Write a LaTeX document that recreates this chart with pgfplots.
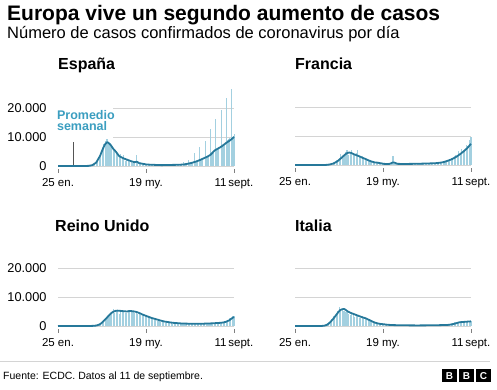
\documentclass[border=0pt]{standalone}
\usepackage{fontspec}
\setmainfont{Liberation Sans}
\usepackage{pgfplots}
\pgfplotsset{compat=1.18}
\definecolor{linecol}{HTML}{26789A}
\definecolor{barcol}{HTML}{A3D0E0}
\definecolor{labelcol}{HTML}{3B9EC0}
\definecolor{gridcol}{HTML}{D4D4D4}
\definecolor{tickcol}{HTML}{808080}
\definecolor{pointcol}{HTML}{555555}
\pgfplotsset{
 panel/.style={scale only axis, width=176pt, height=81.2pt, xmin=0, xmax=230, ymin=0, ymax=28000,
   anchor=south west, axis line style={draw=none},
   xtick={0,115,230}, xticklabels={25 en.,19 my.,11\,sept.}, xtick pos=bottom, ytick pos=left,
   ytick={0,10000,20000}, ymajorgrids, grid style={gridcol, line width=0.8pt},
   ytick style={draw=none}, xtick style={tickcol, line width=0.7pt, yshift=-3pt},
   major tick length=4pt, tick align=outside, clip=false,
   xticklabel style={font=\fontsize{11.5}{13}\selectfont, yshift=-5pt},
   yticklabel style={font=\fontsize{12.75}{14}\selectfont, anchor=east, xshift=-4pt},
   /pgf/number format/assume math mode=true, scaled y ticks=false},
 leftpanel/.style={panel, yticklabels={0,10.000,20.000}},
 rightpanel/.style={panel, yticklabels={}},
 bars/.style={ycomb, barcol, line width=1.1pt, mark=none},
 thinbars/.style={ycomb, barcol, line width=0.8pt, mark=none},
 avg/.style={linecol, line width=1.8pt, mark=none, line join=round}
}
\begin{document}
\begin{tikzpicture}
\useasboundingbox (0pt,0pt) rectangle (497pt,390pt);
\fill[white] (0pt,0pt) rectangle (497pt,390pt);
% titles
\node[anchor=base west, inner sep=0pt, font=\bfseries\fontsize{21}{25}\selectfont] at (7pt,369pt) {Europa vive un segundo aumento de casos};
\node[anchor=base west, inner sep=0pt, font=\fontsize{16.5}{19}\selectfont] at (7pt,351pt) {Número de casos confirmados de coronavirus por día};
\node[anchor=base west, inner sep=0pt, font=\bfseries\fontsize{16}{19}\selectfont] at (58pt,320pt) {España};
\node[anchor=base west, inner sep=0pt, font=\bfseries\fontsize{16}{19}\selectfont] at (295pt,320pt) {Francia};
\node[anchor=base west, inner sep=0pt, font=\bfseries\fontsize{16}{19}\selectfont] at (55pt,158pt) {Reino Unido};
\node[anchor=base west, inner sep=0pt, font=\bfseries\fontsize{16}{19}\selectfont] at (295pt,158pt) {Italia};

% ---------------- España
\begin{axis}[leftpanel, at={(58pt,224pt)}]
\fill[white] (axis cs:-1,9400) rectangle (axis cs:72,21500);
\addplot[bars] table[row sep=\\]{
36 10\\ 38 30\\ 40 80\\ 42 150\\ 44 300\\ 46 500\\ 48 1000\\ 50 1500\\ 52 2100\\ 54 3400\\ 56 4500\\ 58 6500\\ 60 7500\\ 62 8500\\ 64 9200\\ 66 8100\\ 68 7800\\ 70 6400\\ 72 5500\\ 74 4800\\ 76 5000\\ 78 4300\\ 80 3800\\ 82 4200\\ 84 2600\\ 86 3900\\ 88 1800\\ 90 2200\\ 92 2100\\ 94 1400\\ 96 1800\\ 98 1100\\ 100 1300\\ 102 3800\\ 104 1000\\ 106 900\\ 108 700\\ 110 600\\ 112 500\\ 114 400\\ 116 600\\ 118 300\\ 120 500\\ 122 350\\ 124 300\\ 126 400\\ 128 300\\ 130 350\\ 132 300\\ 134 250\\ 136 400\\ 138 300\\ 140 350\\ 142 300\\ 144 350\\ 146 400\\ 148 350\\ 150 400\\ 152 350\\ 154 400\\ 156 450\\ 158 400\\
};
\addplot[thinbars] table[row sep=\\]{
160 500\\ 161 450\\ 162 0\\ 163 0\\ 164 1500\\ 165 600\\ 166 550\\ 167 650\\ 168 700\\ 169 0\\ 170 0\\ 171 2000\\ 172 900\\ 173 950\\ 174 1000\\ 175 1100\\ 176 0\\ 177 0\\ 178 4600\\ 179 1300\\ 180 1400\\ 181 1500\\ 182 1600\\ 183 0\\ 184 0\\ 185 6400\\ 186 1900\\ 187 2000\\ 188 2200\\ 189 2300\\ 190 0\\ 191 0\\ 192 8500\\ 193 2800\\ 194 3000\\ 195 3100\\ 196 3300\\ 197 0\\ 198 0\\ 199 12800\\ 200 3800\\ 201 4000\\ 202 4200\\ 203 4500\\ 204 0\\ 205 0\\ 206 16300\\ 207 5500\\ 208 5800\\ 209 6000\\ 210 6300\\ 211 0\\ 212 0\\ 213 19400\\ 214 7000\\ 215 7200\\ 216 7400\\ 217 7600\\ 218 0\\ 219 0\\ 220 23600\\ 221 8500\\ 222 9000\\ 223 9300\\ 224 9500\\ 225 0\\ 226 0\\ 227 26600\\ 228 10000\\ 229 10500\\ 230 11000\\
};
\addplot[pointcol, line width=1.2pt] coordinates {(20,0) (20,8400)};
\addplot[avg] table[row sep=\\]{
0 0\\ 30 0\\ 36 5\\ 40 50\\ 45 300\\ 50 1200\\ 55 3500\\ 58 5500\\ 61 7300\\ 64 8200\\ 66 8000\\ 69 7200\\ 72 6000\\ 76 4800\\ 80 3400\\ 86 2600\\ 90 2200\\ 95 1700\\ 100 1300\\ 103 1500\\ 106 1000\\ 110 800\\ 115 550\\ 120 450\\ 125 400\\ 130 350\\ 135 300\\ 140 320\\ 145 350\\ 150 380\\ 155 400\\ 160 450\\ 165 550\\ 170 800\\ 175 1100\\ 180 1500\\ 185 2000\\ 190 2600\\ 195 3200\\ 199 3800\\ 202 4600\\ 205 5400\\ 209 6000\\ 213 6600\\ 216 7200\\ 220 8000\\ 224 8700\\ 227 9300\\ 230 10000\\
};
\node[anchor=base west, inner sep=0pt, text=labelcol, font=\bfseries\fontsize{12.5}{14}\selectfont] at (axis cs:-1.5,16100) {Promedio};
\node[anchor=base west, inner sep=0pt, text=labelcol, font=\bfseries\fontsize{12.5}{14}\selectfont] at (axis cs:-1.5,12200) {semanal};
\end{axis}

% ---------------- Francia
\begin{axis}[rightpanel, at={(295pt,225pt)}]
\addplot[bars] table[row sep=\\]{
36 10\\ 38 30\\ 40 60\\ 42 150\\ 44 250\\ 46 400\\ 48 800\\ 50 900\\ 52 1200\\ 54 1600\\ 56 1800\\ 58 2500\\ 60 3800\\ 62 2900\\ 64 3600\\ 66 4600\\ 68 5300\\ 70 3400\\ 72 4300\\ 74 5200\\ 76 4000\\ 78 3500\\ 80 4300\\ 82 5000\\ 84 2600\\ 86 2400\\ 88 3000\\ 90 2000\\ 92 2400\\ 94 1800\\ 96 1500\\ 98 1700\\ 100 1200\\ 102 1000\\ 104 900\\ 106 700\\ 108 1100\\ 110 500\\ 112 600\\ 114 400\\ 116 350\\ 118 300\\ 120 250\\ 122 300\\ 124 400\\ 126 300\\ 128 3200\\ 130 400\\ 132 350\\ 134 300\\ 136 400\\ 138 350\\ 140 300\\ 142 400\\ 144 350\\ 146 450\\ 148 350\\ 150 400\\ 152 450\\ 154 380\\ 156 420\\ 158 450\\ 160 400\\ 162 500\\ 164 450\\ 166 550\\ 168 500\\ 170 600\\ 172 450\\ 174 700\\ 176 550\\ 178 650\\ 180 600\\ 182 700\\ 184 650\\ 186 800\\ 188 700\\ 190 1000\\ 192 900\\ 194 1200\\ 196 1100\\ 198 1500\\ 200 1700\\ 202 1600\\ 204 2300\\ 206 2200\\ 208 3000\\ 210 3400\\ 212 2800\\ 214 4700\\ 216 3800\\ 218 5400\\ 220 5000\\ 222 4800\\ 224 7000\\ 226 6500\\ 228 8600\\ 230 9800\\
};
\addplot[avg] table[row sep=\\]{
0 0\\ 35 0\\ 40 20\\ 45 150\\ 50 500\\ 55 1200\\ 60 2300\\ 65 3500\\ 68 4100\\ 71 4300\\ 74 4100\\ 77 3700\\ 80 3400\\ 84 3000\\ 88 2500\\ 92 2100\\ 96 1600\\ 100 1200\\ 104 900\\ 108 800\\ 112 600\\ 116 400\\ 120 330\\ 124 400\\ 127 800\\ 129 900\\ 131 700\\ 134 400\\ 140 350\\ 150 380\\ 160 420\\ 170 500\\ 180 580\\ 185 650\\ 190 800\\ 195 1050\\ 200 1500\\ 205 2000\\ 210 2700\\ 215 3600\\ 220 4600\\ 225 5800\\ 230 7300\\
};
\end{axis}

% ---------------- Reino Unido
\begin{axis}[leftpanel, at={(58pt,64pt)}]
\addplot[bars] table[row sep=\\]{
36 5\\ 38 10\\ 40 20\\ 42 30\\ 44 50\\ 46 80\\ 48 130\\ 50 200\\ 52 350\\ 54 650\\ 56 900\\ 58 1000\\ 60 1700\\ 62 2500\\ 64 2600\\ 66 3000\\ 68 4300\\ 70 4500\\ 72 5900\\ 74 4400\\ 76 5300\\ 78 5200\\ 80 4300\\ 82 5600\\ 84 5000\\ 86 4700\\ 88 4500\\ 90 4400\\ 92 5400\\ 94 4800\\ 96 5600\\ 98 4900\\ 100 4400\\ 102 5000\\ 104 4300\\ 106 4600\\ 108 3900\\ 110 3800\\ 112 3400\\ 114 3500\\ 116 3100\\ 118 3400\\ 120 2700\\ 122 2600\\ 124 2400\\ 126 2000\\ 128 2000\\ 130 1600\\ 132 1800\\ 134 1500\\ 136 1400\\ 138 1300\\ 140 1200\\ 142 1100\\ 144 1000\\ 146 900\\ 148 1000\\ 150 850\\ 152 800\\ 154 900\\ 156 700\\ 158 750\\ 160 650\\ 162 650\\ 164 700\\ 166 600\\ 168 650\\ 170 700\\ 172 600\\ 174 800\\ 176 700\\ 178 750\\ 180 800\\ 182 850\\ 184 750\\ 186 900\\ 188 800\\ 190 950\\ 192 850\\ 194 1000\\ 196 1000\\ 198 1100\\ 200 1050\\ 202 1100\\ 204 1000\\ 206 1200\\ 208 1100\\ 210 1300\\ 212 1200\\ 214 1400\\ 216 1500\\ 218 1800\\ 220 1700\\ 222 2000\\ 224 2900\\ 226 2500\\ 228 3300\\ 230 3500\\
};
\addplot[avg] table[row sep=\\]{
0 0\\ 35 2\\ 40 10\\ 45 40\\ 50 150\\ 54 500\\ 57 1000\\ 60 1800\\ 63 2600\\ 66 3500\\ 69 4300\\ 72 4900\\ 75 5200\\ 78 5300\\ 82 5200\\ 86 5100\\ 90 5000\\ 94 5200\\ 97 5100\\ 100 5000\\ 103 4800\\ 106 4500\\ 110 4000\\ 114 3600\\ 118 3200\\ 122 2800\\ 126 2500\\ 130 2200\\ 135 1800\\ 140 1500\\ 145 1300\\ 150 1100\\ 155 1000\\ 160 900\\ 170 800\\ 180 750\\ 190 800\\ 200 900\\ 210 1050\\ 216 1200\\ 220 1500\\ 224 2000\\ 227 2600\\ 230 3100\\
};
\end{axis}

% ---------------- Italia
\begin{axis}[rightpanel, at={(295pt,64pt)}]
\addplot[bars] table[row sep=\\]{
34 200\\ 36 300\\ 38 500\\ 40 800\\ 42 1200\\ 44 1500\\ 46 1800\\ 48 2300\\ 50 3500\\ 52 3200\\ 54 4200\\ 56 5300\\ 58 6500\\ 60 5500\\ 62 5900\\ 64 5200\\ 66 4800\\ 68 4700\\ 70 4300\\ 72 3800\\ 74 4600\\ 76 3900\\ 78 3000\\ 80 4200\\ 82 3800\\ 84 2900\\ 86 2700\\ 88 3500\\ 90 3200\\ 92 2300\\ 94 2000\\ 96 2300\\ 98 1900\\ 100 1400\\ 102 1200\\ 104 1000\\ 106 1100\\ 108 900\\ 110 800\\ 112 750\\ 114 650\\ 116 600\\ 118 500\\ 120 400\\ 122 450\\ 124 350\\ 126 320\\ 128 300\\ 130 280\\ 132 300\\ 134 250\\ 136 270\\ 138 230\\ 140 250\\ 142 220\\ 144 230\\ 146 200\\ 148 210\\ 150 200\\ 152 180\\ 154 220\\ 156 190\\ 158 200\\ 160 210\\ 162 220\\ 164 190\\ 166 230\\ 168 210\\ 170 250\\ 172 230\\ 174 260\\ 176 250\\ 178 300\\ 180 280\\ 182 320\\ 184 300\\ 186 350\\ 188 380\\ 190 400\\ 192 450\\ 194 480\\ 196 500\\ 198 550\\ 200 600\\ 202 800\\ 204 950\\ 206 1100\\ 208 1300\\ 210 1400\\ 212 1200\\ 214 1300\\ 216 1500\\ 218 1400\\ 220 1300\\ 222 1400\\ 224 1500\\ 226 1600\\ 228 1500\\ 230 1600\\
};
\addplot[avg] table[row sep=\\]{
0 0\\ 30 0\\ 35 20\\ 38 100\\ 41 300\\ 44 800\\ 47 1600\\ 50 2500\\ 53 3500\\ 56 4600\\ 59 5500\\ 62 5800\\ 64 5900\\ 66 5600\\ 69 5000\\ 72 4600\\ 76 4200\\ 80 3800\\ 84 3400\\ 88 3000\\ 92 2700\\ 96 2200\\ 100 1700\\ 104 1200\\ 108 900\\ 112 700\\ 116 600\\ 120 450\\ 125 350\\ 130 300\\ 140 250\\ 150 220\\ 160 200\\ 170 220\\ 180 250\\ 190 300\\ 200 380\\ 205 550\\ 210 900\\ 215 1300\\ 220 1400\\ 225 1500\\ 230 1600\\
};
\end{axis}

% footer
\draw[gridcol, line width=0.8pt] (0pt,29pt) -- (490pt,29pt);
\node[anchor=base west, inner sep=0pt, font=\fontsize{10.5}{12}\selectfont] at (3pt,10pt) {Fuente: ECDC. Datos al 11 de septiembre.};
\foreach \xx/\ll in {442/B,459/B,476/C}{
  \fill[black] (\xx pt,8pt) rectangle ++(15pt,12.5pt);
  \node[text=white, font=\bfseries\fontsize{10}{12}\selectfont, inner sep=0pt] at (\xx pt+7.5pt,14.25pt) {\ll};
}
\end{tikzpicture}
\end{document}
